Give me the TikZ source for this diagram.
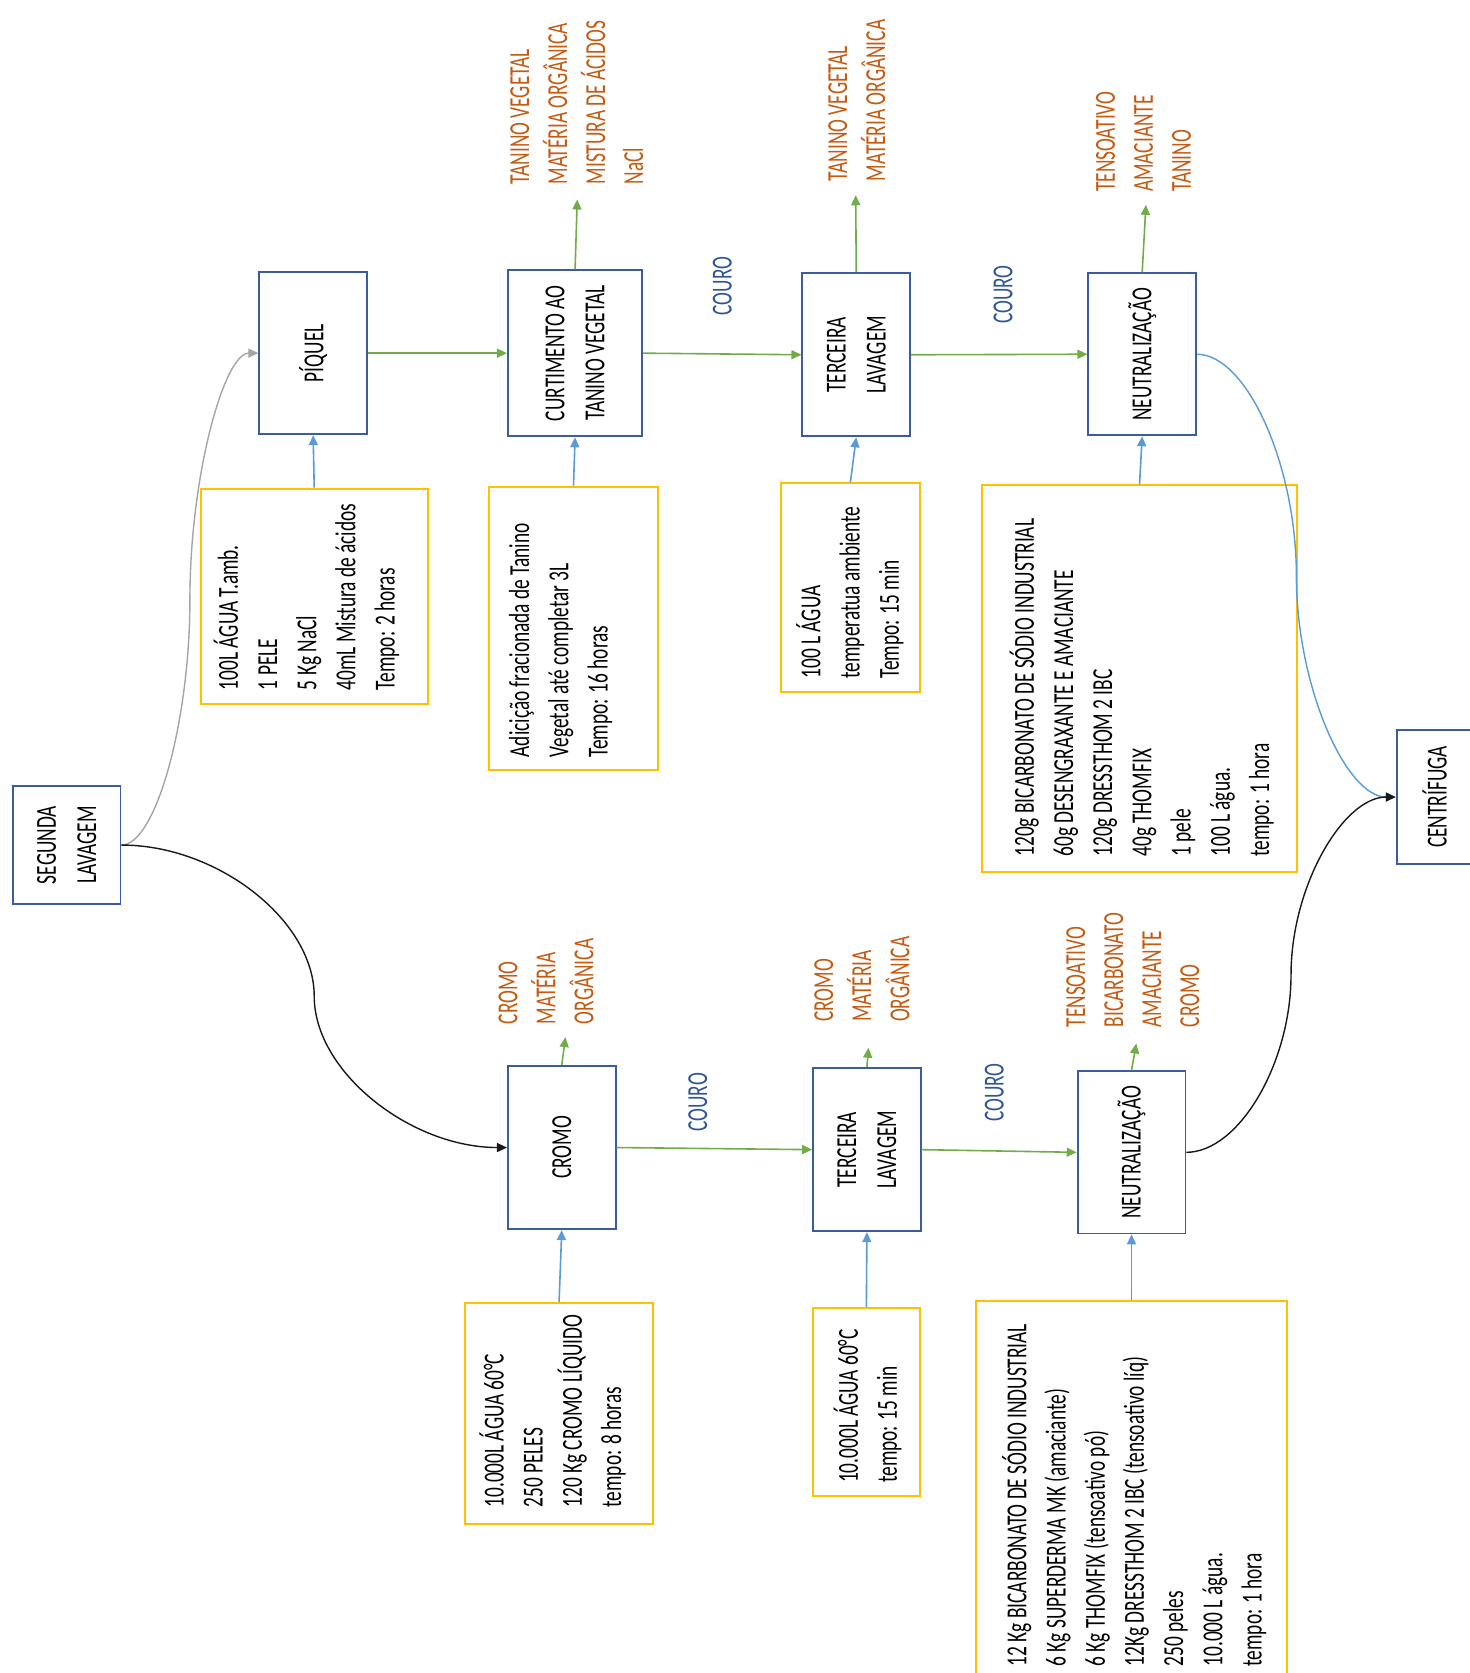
\documentclass[tikz,border=0pt]{standalone}
\usepackage{fontspec}
\setmainfont{Carlito}[FakeStretch=0.667]
\usetikzlibrary{calc,arrows.meta}

\definecolor{procblue}{RGB}{59,92,160}
\definecolor{inyellow}{RGB}{255,192,0}
\definecolor{flowgreen}{RGB}{112,173,71}
\definecolor{feedblue}{RGB}{91,155,213}
\definecolor{outorange}{RGB}{197,90,17}
\definecolor{couroblue}{RGB}{47,85,151}
\definecolor{linkgray}{RGB}{165,165,165}
\definecolor{linkblack}{RGB}{25,25,25}

% S-shaped curved connector (horizontal at both ends, vertical in the middle)
\newcommand\curvedlink[4]{%
  \coordinate (#4q1) at ($(#2)!0.25!(#3)$);
  \coordinate (#4mid) at ($(#2)!0.5!(#3)$);
  \coordinate (#4q3) at ($(#2)!0.75!(#3)$);
  \draw[#1] (#2) .. controls (#4q1 |- #2) and (#4mid |- #4q1) .. (#4mid)
               .. controls (#4mid |- #4q3) and (#4q3 |- #3) .. (#3);
}

\begin{document}
\begin{tikzpicture}[x=1.0668pt,y=-1.0668pt,
  tip/.style={-{Triangle[length=10pt,width=9pt]}},
  % process boxes are rotated: page left = north, page right = south,
  % page top = east, page bottom = west
  proc/.style 2 args={draw=procblue,line width=1.8pt,rotate=90,align=center,
    inner sep=0pt,minimum width=#1*1.0668pt,minimum height=#2*1.0668pt,
    font=\fontsize{29}{40}\selectfont},
  inbox/.style 2 args={draw=inyellow,line width=2pt,inner sep=0pt,
    minimum width=#1*1.0668pt,minimum height=#2*1.0668pt},
  intext/.style={rotate=90,anchor=north west,align=left,inner sep=0pt,
    font=\fontsize{29}{39.2}\selectfont},
  outtext/.style={rotate=90,anchor=north west,align=left,inner sep=0pt,
    text=outorange,font=\fontsize{29}{38}\selectfont},
  couro/.style={rotate=90,inner sep=0pt,text=couroblue,
    font=\fontsize{29}{34}\selectfont},
  flow/.style={draw=flowgreen,line width=1.6pt,tip},
  feed/.style={draw=feedblue,line width=1.6pt,tip},
]
\useasboundingbox[fill=white] (0,0) rectangle (1377,1568);
\def\fs{\rule{0pt}{28pt}}

% ---------- process steps ----------
\node[proc={110}{101}] (seg) at (62.5,792) {SEGUNDA\\LAVAGEM};
\node[proc={152}{101}] (piq) at (293.5,331) {PÍQUEL};
\node[proc={156}{126}] (curt) at (539,331) {CURTIMENTO AO\\TANINO VEGETAL};
\node[proc={153}{101}] (ter1) at (802.5,332.5) {TERCEIRA\\LAVAGEM};
\node[proc={152}{101}] (neu1) at (1070.5,332) {NEUTRALIZAÇÃO};
\node[proc={126}{71}] (cen) at (1344.5,747) {CENTRÍFUGA};
\node[proc={153}{101}] (cro) at (526.5,1075.5) {CROMO};
\node[proc={153}{101}] (ter2) at (812.5,1077.5) {TERCEIRA\\LAVAGEM};
\node[proc={152}{101}] (neu2) at (1060.5,1080) {NEUTRALIZAÇÃO};

% ---------- input boxes ----------
\node[inbox={213}{202}] (ipiq) at (294.5,559) {};
\node[inbox={159}{266}] (icurt) at (537.5,589) {};
\node[inbox={130}{196}] (iter1) at (797,551) {};
\node[inbox={296}{362}] (ineu1) at (1068,636) {};
\node[inbox={176}{207}] (icro) at (524,1324.5) {};
\node[inbox={100}{176}] (iter2) at (812,1314) {};
\node[inbox={291}{371}] (ineu2) at (1060.5,1404.5) {};

\node[intext] (tpiq) at (196.5,647) {\fs100L ÁGUA T.amb.\\1 PELE\\5 Kg NaCl\\40mL Mistura de ácidos\\Tempo: 2 horas};
\node[intext] (tcurt) at (469.5,710) {\fs Adicição fracionada de Tanino\\Vegetal até completar 3L\\Tempo: 16 horas};
\node[intext] (tter1) at (742.5,636) {\fs100 L ÁGUA\\temperatua ambiente\\Tempo: 15 min};
\node[intext] (tneu1) at (942.5,803) {\fs120g BICARBONATO DE SÓDIO INDUSTRIAL\\60g DESENGRAXANTE E AMACIANTE\\120g DRESSTHOM 2 IBC\\40g THOMFIX\\1 pele\\100 L água.\\tempo: 1 hora};
\node[intext] (tcro) at (445.5,1413) {\fs10.000L ÁGUA 60°C\\250 PELES\\120 Kg CROMO LÍQUIDO\\tempo: 8 horas};
\node[intext] (tter2) at (777.5,1390) {\fs10.000L ÁGUA 60°C\\tempo: 15 min};
\node[intext] (tneu2) at (935.5,1562) {\fs12 Kg BICARBONATO DE SÓDIO INDUSTRIAL\\6 Kg SUPERDERMA MK (amaciante)\\6 Kg THOMFIX (tensoativo pó)\\12Kg DRESSTHOM 2 IBC (tensoativo líq)\\250 peles\\10.000 L água.\\tempo: 1 hora};

% ---------- effluents ----------
\node[outtext] (ocurt) at (469.5,173) {\fs TANINO VEGETAL\\MATÉRIA ORGÂNICA\\MISTURA DE ÁCIDOS\\NaCl};
\node[outtext] (oter1) at (767.5,170) {\fs TANINO VEGETAL\\MATÉRIA ORGÂNICA};
\node[outtext] (oneu1) at (1018.5,180) {\fs TENSOATIVO\\AMACIANTE\\TANINO};
\node[outtext] (ocro) at (458.5,960) {\fs CROMO\\MATÉRIA\\ORGÂNICA};
\node[outtext] (oter2) at (754.5,958) {\fs CROMO\\MATÉRIA\\ORGÂNICA};
\node[outtext] (oneu2) at (990.5,963) {\fs TENSOATIVO\\BICARBONATO\\AMACIANTE\\CROMO};

\coordinate (ecurt) at (541,187);
\coordinate (eter1) at (802,183);
\coordinate (eneu1) at (1074,192);
\coordinate (ecro) at (530,972);
\coordinate (eter2) at (814,982);
\coordinate (eneu2) at (1065,978);

\draw[flow] (curt.east) -- (ecurt);
\draw[flow] (ter1.east) -- (eter1);
\draw[flow] (neu1.east) -- (eneu1);
\draw[flow] (cro.east) -- (ecro);
\draw[flow] (ter2.east) -- (eter2);
\draw[flow] (neu2.east) -- (eneu2);

% ---------- leather flow ----------
\node[couro] (c1) at (677,268) {COURO};
\node[couro] (c2) at (940,276) {COURO};
\node[couro] (c3) at (654,1033) {COURO};
\node[couro] (c4) at (932,1024) {COURO};

\draw[flow] (piq.south) -- (curt.north);
\draw[flow] (curt.south) -- (ter1.north);
\draw[flow] (ter1.south) -- (neu1.north);
\draw[flow] (cro.south) -- (ter2.north);
\draw[flow] (ter2.south) -- (neu2.north);

% ---------- inputs ----------
\draw[feed] (ipiq.north) -- (piq.west);
\draw[feed] (icurt.north) -- (curt.west);
\draw[feed] (iter1.north) -- (ter1.west);
\draw[feed] (ineu1.north) -- (neu1.west);
\draw[feed] (icro.north) -- (cro.west);
\draw[feed] (iter2.north) -- (ter2.west);
\draw[feed] (ineu2.north) -- (neu2.west);

% ---------- branches ----------
\curvedlink{draw=linkgray,line width=1.4pt,tip}{seg.south}{piq.north}{ga}
\curvedlink{draw=linkblack,line width=1.4pt,tip}{seg.south}{cro.north}{bk}
\curvedlink{draw=feedblue,line width=1.4pt,tip}{neu1.south}{cen.north}{bl}
\curvedlink{draw=linkblack,line width=1.4pt,tip}{neu2.south}{cen.north}{bk2}
\end{tikzpicture}
\end{document}
